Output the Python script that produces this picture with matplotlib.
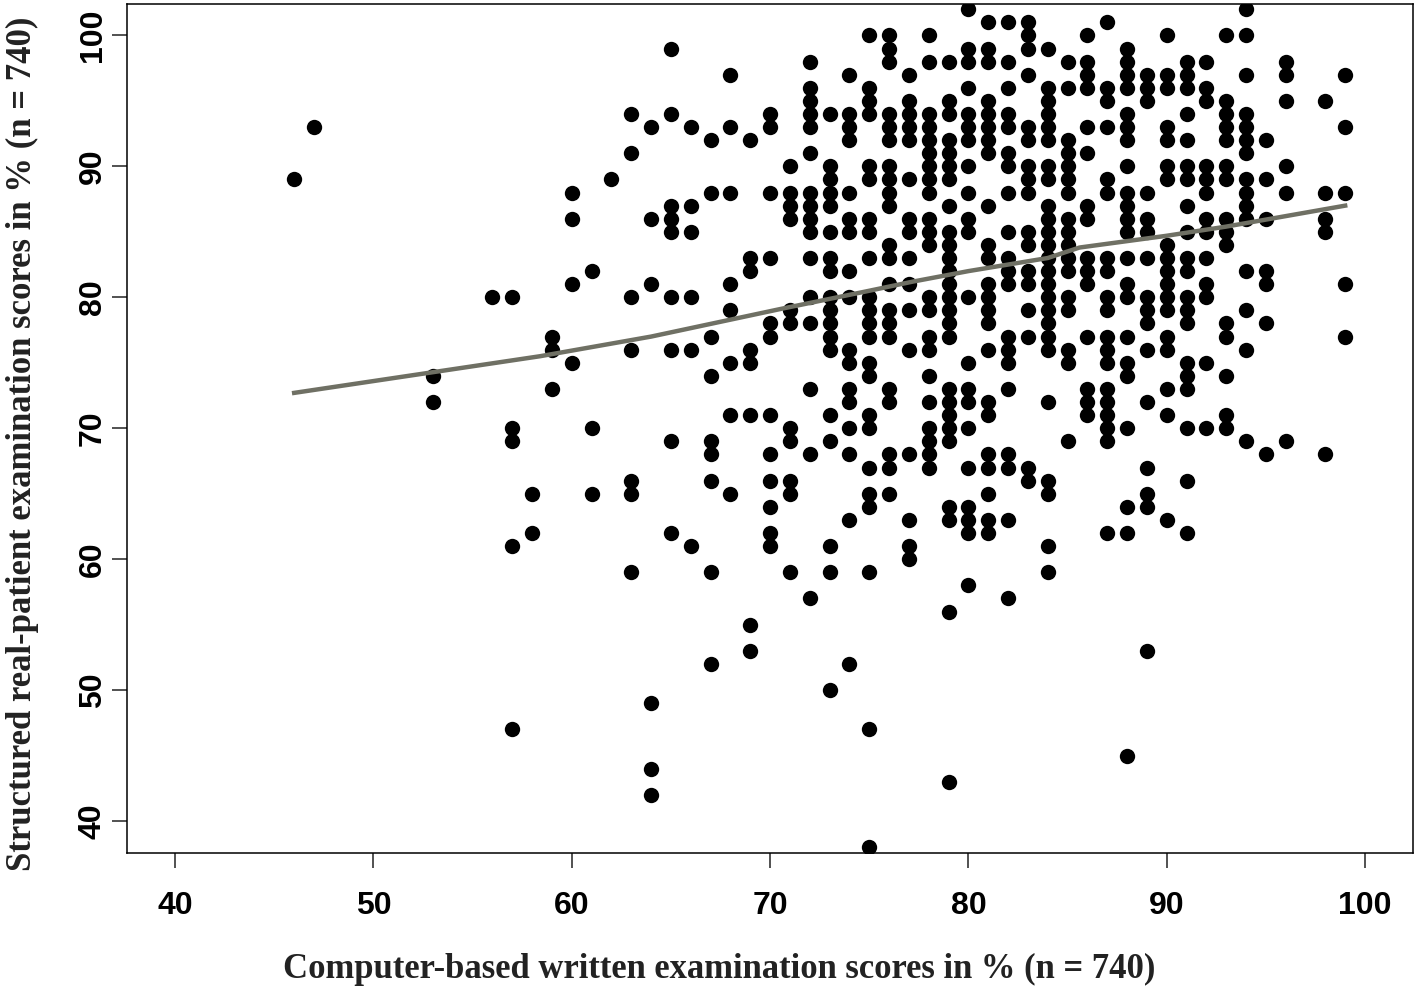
#!/usr/bin/env python3
"""Written exam vs real-patient exam scores, scatter with smoothed trend."""

import matplotlib
matplotlib.use('Agg')
import matplotlib.pyplot as plt

written = [46, 47, 53, 56, 57, 58, 59, 60, 61, 62, 63, 64, 65, 66, 67, 68, 69, 70,
           71, 72, 73, 74, 75, 76, 77, 78, 79, 80, 81, 82, 83, 84, 85, 86, 87, 88,
           89, 90, 91, 92, 93, 94, 95, 96, 98, 99]
patient = [
    [89],
    [93],
    [74, 72],
    [80],
    [80, 70, 69, 61, 47],
    [65, 62],
    [77, 76, 73],
    [88, 86, 81, 75],
    [82, 70, 65],
    [89],
    [94, 91, 80, 76, 66, 65, 59],
    [93, 86, 81, 49, 44, 42],
    [99, 94, 87, 86, 85, 80, 76, 69, 62],
    [93, 87, 85, 80, 76, 61],
    [92, 88, 77, 74, 69, 68, 66, 59, 52],
    [97, 93, 88, 81, 79, 75, 71, 65],
    [92, 83, 82, 76, 75, 71, 55, 53],
    [94, 93, 88, 83, 78, 77, 71, 68, 66, 64, 62, 61],
    [90, 88, 87, 86, 79, 78, 70, 69, 66, 65, 59],
    [98, 96, 95, 94, 93, 91, 88, 87, 86, 85, 83, 80, 78, 73, 68, 57],
    [94, 90, 89, 88, 87, 85, 83, 82, 80, 79, 78, 77, 76, 71, 69, 61, 59, 50],
    [97, 94, 93, 92, 88, 86, 85, 82, 80, 76, 75, 73, 72, 70, 68, 63, 52],
    [100, 96, 95, 94, 90, 89, 86, 85, 83, 80, 79, 78, 77, 75, 74, 71, 70, 67, 65, 64, 59, 47, 38],
    [100, 99, 98, 94, 93, 92, 90, 89, 88, 87, 84, 83, 81, 79, 78, 77, 73, 72, 68, 67, 65],
    [97, 95, 94, 93, 92, 89, 86, 85, 83, 81, 79, 76, 68, 63, 61, 60],
    [100, 98, 94, 93, 92, 91, 90, 89, 88, 86, 85, 84, 80, 79, 77, 76, 74, 72, 70, 69, 68, 67],
    [98, 95, 94, 92, 91, 90, 89, 87, 85, 84, 83, 82, 81, 80, 79, 78, 77, 73, 72, 71, 70, 69, 64, 63, 56, 43],
    [102, 99, 98, 96, 94, 93, 92, 90, 88, 86, 85, 80, 75, 73, 72, 70, 67, 64, 63, 62, 58],
    [101, 99, 98, 95, 94, 93, 92, 91, 87, 84, 83, 81, 80, 79, 78, 76, 72, 71, 68, 67, 65, 63, 62],
    [101, 98, 96, 94, 93, 91, 90, 88, 85, 83, 82, 81, 77, 76, 75, 73, 68, 67, 63, 57],
    [101, 100, 99, 97, 93, 92, 90, 89, 88, 85, 84, 82, 81, 79, 77, 67, 66],
    [99, 96, 95, 94, 93, 92, 90, 89, 87, 86, 85, 84, 83, 82, 81, 80, 79, 78, 77, 76, 72, 66, 65, 61, 59],
    [98, 96, 92, 91, 90, 89, 88, 86, 85, 84, 83, 82, 80, 79, 76, 75, 69],
    [100, 98, 97, 96, 93, 91, 87, 86, 83, 82, 81, 77, 73, 72, 71],
    [101, 96, 95, 93, 89, 88, 83, 82, 80, 79, 77, 76, 75, 73, 72, 71, 70, 69, 62],
    [99, 98, 97, 96, 94, 93, 92, 90, 88, 87, 86, 85, 83, 81, 80, 77, 75, 74, 70, 64, 62, 45],
    [97, 96, 95, 88, 86, 85, 83, 80, 79, 78, 76, 72, 67, 65, 64, 53],
    [100, 97, 96, 93, 92, 90, 89, 84, 83, 82, 81, 80, 79, 77, 76, 73, 71, 63],
    [98, 97, 96, 94, 92, 90, 89, 87, 85, 83, 82, 80, 79, 78, 75, 74, 73, 70, 66, 62],
    [98, 96, 95, 90, 89, 88, 86, 85, 83, 81, 80, 75, 70],
    [100, 95, 94, 93, 92, 90, 89, 86, 85, 84, 78, 77, 74, 71, 70],
    [102, 100, 97, 94, 93, 92, 91, 89, 88, 87, 86, 82, 79, 76, 69],
    [92, 89, 86, 82, 81, 78, 68],
    [98, 97, 95, 90, 88, 69],
    [95, 88, 86, 85, 68],
    [97, 93, 88, 81, 77],
]

trend_x = [46, 58.4, 64, 70.5, 75, 77.2, 80, 84, 85.6, 90, 93, 96, 99]
trend_y = [72.7, 75.5, 77, 79.1, 80.5, 81.2, 82, 83, 83.8, 84.7, 85.4, 86.2, 87]

x_ticks = [40, 50, 60, 70, 80, 90, 100]
y_ticks = [40, 50, 60, 70, 80, 90, 100]

xs = []
ys = []
for score, column in zip(written, patient):
    for value in column:
        xs.append(score)
        ys.append(value)

fig = plt.figure(figsize=(14.18, 9.88), dpi=100)
ax = fig.add_axes([127 / 1418, 1 - 853 / 988, (1413 - 127) / 1418, (853 - 4) / 988])

ax.scatter(xs, ys, s=122, c='black', linewidths=0, zorder=2, clip_on=True)
ax.plot(trend_x, trend_y, color='#6f7064', linewidth=3.2, zorder=3)

ax.set_xlim(37.57, 102.42)
ax.set_ylim(37.56, 102.40)
ax.set_xticks(x_ticks)
ax.set_yticks(y_ticks)
ax.tick_params(axis='both', length=11, width=1.1, color='#222222')
ax.tick_params(axis='x', pad=16)
ax.tick_params(axis='y', pad=3)
for label in ax.get_xticklabels():
    label.set_fontproperties({'family': 'Liberation Sans', 'weight': 'bold', 'size': 23})
for label in ax.get_yticklabels():
    label.set_fontproperties({'family': 'Liberation Sans', 'weight': 'bold', 'size': 23})
    label.set_rotation(90)
    label.set_va('center')
for side in ax.spines.values():
    side.set_linewidth(1.1)

fig.text(719 / 1418, 1 - 969 / 988, 'Computer-based written examination scores in % (n = 740)',
         family='Liberation Serif', weight='bold', size=24.9, color='#222222', ha='center', va='center')
fig.text(22 / 1418, 1 - 444 / 988, 'Structured real-patient examination scores in % (n = 740)',
         family='Liberation Serif', weight='bold', size=25, color='#222222', ha='center', va='center',
         rotation=90)

fig.savefig('out.png', dpi=100)
